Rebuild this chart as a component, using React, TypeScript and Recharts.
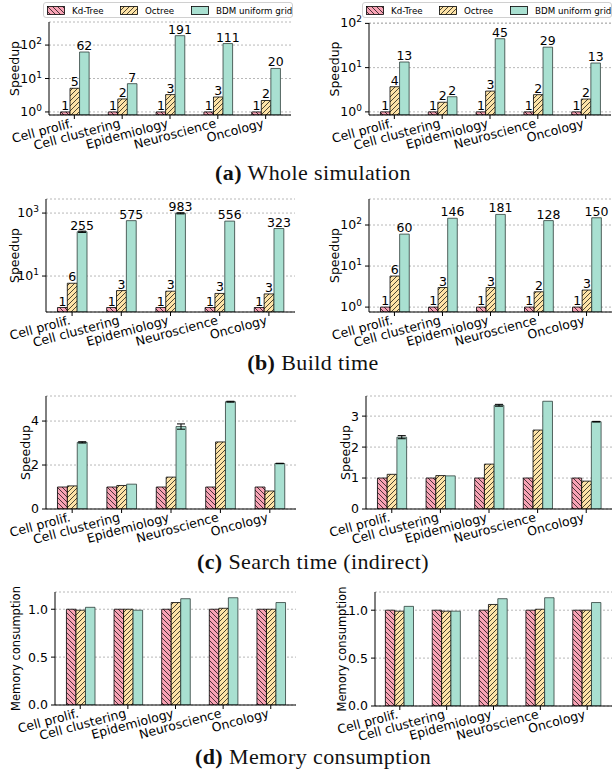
import React from "react";
import { BarChart, Bar, XAxis, YAxis, CartesianGrid, LabelList, ErrorBar } from "recharts";

const categories = ["Cell prolif.", "Cell clustering", "Epidemiology", "Neuroscience", "Oncology"];
const positions = [0, 1, 2, 3, 4];
const seriesNames = ["Kd-Tree", "Octree", "BDM uniform grid"];

// (a) whole simulation
const wholeLeftKd = [1, 1, 1, 1, 1];
const wholeLeftOct = [5.1, 2.45, 3.3, 2.8, 2.2];
const wholeLeftBdm = [62, 7, 191, 111, 20];
const wholeRightKd = [1, 1, 1, 1, 1];
const wholeRightOct = [3.7, 1.65, 2.95, 2.45, 1.95];
const wholeRightBdm = [13.4, 2.2, 45, 29, 12.7];

// (b) build time
const buildLeftKd = [1, 1, 1, 1, 1];
const buildLeftOct = [5.9, 3.45, 3.3, 2.8, 2.7];
const buildLeftBdm = [255, 575, 983, 556, 323];
const buildLeftBdmErr = [12, 0, 40, 0, 0];
const buildRightKd = [1, 1, 1, 1, 1];
const buildRightOct = [5.7, 3.0, 3.0, 2.36, 2.6];
const buildRightBdm = [60, 146, 181, 128, 150];

// (c) search time (indirect)
const searchLeftKd = [1, 1, 1, 1, 1];
const searchLeftOct = [1.05, 1.07, 1.45, 3.05, 0.82];
const searchLeftBdm = [3.03, 1.13, 3.75, 4.88, 2.07];
const searchLeftBdmErr = [0.03, 0, 0.12, 0.02, 0.01];
const searchRightKd = [1, 1, 1, 1, 1];
const searchRightOct = [1.12, 1.08, 1.45, 2.55, 0.9];
const searchRightBdm = [2.32, 1.07, 3.35, 3.48, 2.82];
const searchRightBdmErr = [0.05, 0, 0.03, 0, 0.01];

// (d) memory consumption
const memLeftKd = [1, 1, 1, 1, 1];
const memLeftOct = [0.99, 1.0, 1.07, 1.01, 1.0];
const memLeftBdm = [1.02, 0.99, 1.11, 1.12, 1.07];
const memRightKd = [1, 1, 1, 1, 1];
const memRightOct = [0.99, 0.99, 1.06, 1.01, 1.0];
const memRightBdm = [1.04, 0.99, 1.12, 1.13, 1.08];

const PINK = "#f8a3b5";
const YELLOW = "#fde3a7";
const TEAL = "#a9e0d1";
const FONT = "'DejaVu Sans', Verdana, sans-serif";
const X_DOMAIN: [number, number] = [-0.53, 4.53];
const TOP_PAD = 16;

const Patterns = ({ id }: { id: string }) => (
  <defs>
    <pattern id={`${id}-kd`} patternUnits="userSpaceOnUse" width={5} height={5}>
      <rect width={5} height={5} fill={PINK} />
      <path d="M0,0 L5,5 M-1,4 L1,6 M4,-1 L6,1" stroke="#000" strokeWidth={0.7} />
    </pattern>
    <pattern id={`${id}-oct`} patternUnits="userSpaceOnUse" width={5} height={5}>
      <rect width={5} height={5} fill={YELLOW} />
      <path d="M0,5 L5,0 M-1,1 L1,-1 M4,6 L6,4" stroke="#000" strokeWidth={0.7} />
    </pattern>
  </defs>
);

const CatTick = ({ x, y, payload }: any) => (
  <text
    x={x - 1}
    y={y + 6}
    transform={`rotate(-15, ${x - 1}, ${y + 6})`}
    textAnchor="end"
    fontSize={12.5}
    fill="#000"
  >
    {categories[payload.value]}
  </text>
);

const LogTick = ({ x, y, payload }: any) => {
  const e = Math.round(Math.log10(payload.value));
  return (
    <text x={x} y={y + 4} textAnchor="end" fontSize={12.5} fill="#000">
      10
      <tspan dy={-5} fontSize={9}>
        {e}
      </tspan>
    </text>
  );
};

interface PanelProps {
  id: string;
  kd: number[];
  oct: number[];
  bdm: number[];
  bdmErr?: number[];
  log?: boolean;
  domain: [number, number];
  ticks: number[];
  tickFmt?: (v: number) => string;
  plot: [number, number, number, number];
  originX: number;
  yLabel: string;
  yLabelGap: number;
  yLabelSize?: number;
  showValues?: boolean;
}

function Panel(p: PanelProps) {
  const [x0, x1, y0, y1] = p.plot;
  const top = y0 - TOP_PAD;
  const axisH = 48;
  const height = y1 - top + axisH;
  const width = x1 - p.originX + 1;
  const unit = (x1 - x0) / (X_DOMAIN[1] - X_DOMAIN[0]);
  const barSize = unit * 0.2;
  const yw = x0 - p.originX;
  const data = positions.map((pos, i) => ({
    pos,
    kd: p.kd[i],
    oct: p.oct[i],
    bdm: p.bdm[i],
    err: p.bdmErr ? p.bdmErr[i] : 0,
  }));
  const labelProps = {
    position: "top" as const,
    offset: 2,
    fontSize: 12.5,
    fill: "#000",
    formatter: (v: any) => Math.round(Number(v)),
  };
  const cy = (y0 + y1) / 2 - top;
  const lx = yw - p.yLabelGap;

  return (
    <div style={{ position: "absolute", left: p.originX, top, fontFamily: FONT }}>
      <BarChart
        width={width}
        height={height}
        data={data}
        margin={{ top: TOP_PAD, right: 1, bottom: 0, left: 0 }}
        barGap={0}
        barSize={barSize}
      >
        <Patterns id={p.id} />
        <CartesianGrid vertical={false} stroke="#b8b8b8" strokeDasharray="2 2" />
        <XAxis
          dataKey="pos"
          type="number"
          domain={X_DOMAIN}
          ticks={positions}
          interval={0}
          height={axisH}
          tick={<CatTick />}
          tickSize={4}
          axisLine={{ stroke: "#000" }}
          tickLine={{ stroke: "#000" }}
          allowDataOverflow
        />
        <YAxis
          type="number"
          scale={p.log ? "log" : "auto"}
          domain={p.domain}
          ticks={p.ticks}
          interval={0}
          allowDataOverflow
          width={yw}
          tickSize={4}
          tickMargin={3}
          tick={p.log ? <LogTick /> : { fill: "#000", fontSize: 12.5 }}
          tickFormatter={p.tickFmt}
          axisLine={{ stroke: "#000" }}
          tickLine={{ stroke: "#000" }}
        />
        <XAxis
          xAxisId="top"
          orientation="top"
          type="number"
          domain={[0, 1]}
          height={0}
          tick={false}
          tickLine={false}
          axisLine={{ stroke: "#000" }}
        />
        <YAxis
          yAxisId="right"
          orientation="right"
          type="number"
          domain={[0, 1]}
          width={0}
          tick={false}
          tickLine={false}
          axisLine={{ stroke: "#000" }}
        />
        <Bar dataKey="kd" name={seriesNames[0]} fill={`url(#${p.id}-kd)`} stroke="#000" strokeWidth={0.8} isAnimationActive={false}>
          {p.showValues && <LabelList dataKey="kd" {...labelProps} />}
        </Bar>
        <Bar dataKey="oct" name={seriesNames[1]} fill={`url(#${p.id}-oct)`} stroke="#000" strokeWidth={0.8} isAnimationActive={false}>
          {p.showValues && <LabelList dataKey="oct" {...labelProps} />}
        </Bar>
        <Bar dataKey="bdm" name={seriesNames[2]} fill={TEAL} stroke="#2f3f3b" strokeWidth={0.8} isAnimationActive={false}>
          {p.bdmErr && <ErrorBar dataKey="err" width={4} stroke="#000" strokeWidth={1} direction="y" />}
          {p.showValues && <LabelList dataKey="bdm" {...labelProps} />}
        </Bar>
        <text
          x={lx}
          y={cy}
          transform={`rotate(-90, ${lx}, ${cy})`}
          textAnchor="middle"
          dominantBaseline="central"
          fontSize={p.yLabelSize ?? 12.5}
          fill="#000"
        >
          {p.yLabel}
        </text>
      </BarChart>
    </div>
  );
}

const Swatch = ({ id, kind }: { id: string; kind: number }) => (
  <svg width={18} height={9} style={{ display: "block" }}>
    <Patterns id={id} />
    <rect
      x={0.5}
      y={0.5}
      width={17}
      height={8}
      fill={kind === 0 ? `url(#${id}-kd)` : kind === 1 ? `url(#${id}-oct)` : TEAL}
      stroke="#000"
      strokeWidth={0.8}
    />
  </svg>
);

const LegendBox = ({ left, id }: { left: number; id: string }) => (
  <div
    style={{
      position: "absolute",
      left,
      top: 2,
      width: 250,
      height: 16,
      border: "1px solid #d0d0d0",
      borderRadius: 3,
      boxSizing: "border-box",
      fontFamily: FONT,
      fontSize: 8.7,
      background: "#fff",
    }}
  >
    {seriesNames.map((n, i) => (
      <div
        key={n}
        style={{
          position: "absolute",
          left: [3, 76, 147][i],
          top: 2.5,
          display: "flex",
          alignItems: "center",
          gap: 7,
          whiteSpace: "nowrap",
          lineHeight: "10px",
        }}
      >
        <Swatch id={`${id}-${i}`} kind={i} />
        <span>{n}</span>
      </div>
    ))}
  </div>
);

const Caption = ({ tag, text, cy }: { tag: string; text: string; cy: number }) => (
  <div
    style={{
      position: "absolute",
      left: 0,
      width: 626,
      top: cy - 13,
      height: 26,
      lineHeight: "26px",
      textAlign: "center",
      fontFamily: "'Liberation Serif', 'Times New Roman', serif",
      fontSize: 22,
      letterSpacing: 0.4,
      color: "#111",
      whiteSpace: "nowrap",
    }}
  >
    <b>{tag}</b> {text}
  </div>
);

export default function App() {
  return (
    <div style={{ position: "absolute", left: 0, top: 0, width: 613, height: 773, background: "#fff", overflow: "hidden" }}>
      <Panel id="al" kd={wholeLeftKd} oct={wholeLeftOct} bdm={wholeLeftBdm} log domain={[0.81, 490]} ticks={[1, 10, 100]}
        plot={[49, 291, 22, 115]} originX={0} yLabel="Speedup" yLabelGap={35} showValues />
      <Panel id="ar" kd={wholeRightKd} oct={wholeRightOct} bdm={wholeRightBdm} log domain={[0.85, 102]} ticks={[1, 10, 100]}
        plot={[369, 611, 23, 115]} originX={310} yLabel="Speedup" yLabelGap={35} showValues />
      <LegendBox left={43} id="lg1" />
      <LegendBox left={362} id="lg2" />
      <Caption tag="(a)" text="Whole simulation" cy={173} />

      <Panel id="bl" kd={buildLeftKd} oct={buildLeftOct} bdm={buildLeftBdm} bdmErr={buildLeftBdmErr} log domain={[0.72, 2800]} ticks={[10, 1000]}
        plot={[46, 295, 199, 312]} originX={0} yLabel="Speedup" yLabelGap={32} showValues />
      <Panel id="br" kd={buildRightKd} oct={buildRightOct} bdm={buildRightBdm} log domain={[0.76, 430]} ticks={[1, 10, 100]}
        plot={[369, 612, 199, 312]} originX={310} yLabel="Speedup" yLabelGap={35} showValues />
      <Caption tag="(b)" text="Build time" cy={363} />

      <Panel id="cl" kd={searchLeftKd} oct={searchLeftOct} bdm={searchLeftBdm} bdmErr={searchLeftBdmErr} domain={[0, 5.14]} ticks={[0, 2, 4]}
        plot={[46, 296, 396, 509]} originX={0} yLabel="Speedup" yLabelGap={21} />
      <Panel id="cr" kd={searchRightKd} oct={searchRightOct} bdm={searchRightBdm} bdmErr={searchRightBdmErr} domain={[0, 3.65]} ticks={[0, 1, 2, 3]}
        plot={[366, 612, 396, 509]} originX={310} yLabel="Speedup" yLabelGap={21} />
      <Caption tag="(c)" text="Search time (indirect)" cy={562} />

      <Panel id="dl" kd={memLeftKd} oct={memLeftOct} bdm={memLeftBdm} domain={[0, 1.18]} ticks={[0, 0.5, 1]} tickFmt={(v) => v.toFixed(1)}
        plot={[55, 296, 592, 705]} originX={0} yLabel="Memory consumption" yLabelGap={39} yLabelSize={11.5} />
      <Panel id="dr" kd={memRightKd} oct={memRightOct} bdm={memRightBdm} domain={[0, 1.19]} ticks={[0, 0.5, 1]} tickFmt={(v) => v.toFixed(1)}
        plot={[375, 612, 592, 706]} originX={310} yLabel="Memory consumption" yLabelGap={33} yLabelSize={11.5} />
      <Caption tag="(d)" text="Memory consumption" cy={757} />
    </div>
  );
}
